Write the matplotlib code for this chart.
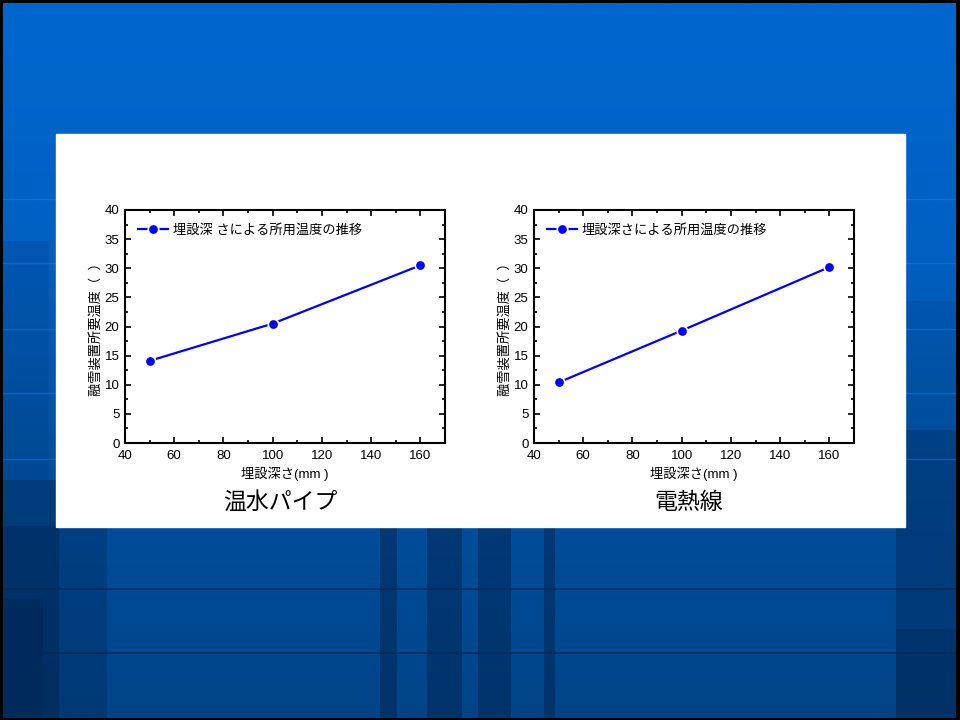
import numpy as np
import matplotlib.pyplot as plt
from matplotlib.patches import Rectangle
from matplotlib.colors import LinearSegmentedColormap

plt.rcParams['font.family'] = ['Liberation Sans', 'Noto Sans CJK JP', 'DejaVu Sans']

# 埋設深さ (mm) と融雪装置所要温度
depth = [50, 100, 160]
temp_hot_water = [14.1, 20.5, 30.5]
temp_heater = [10.4, 19.3, 30.2]

legend_hot_water = '埋設深 さによる所用温度の推移'
legend_heater = '埋設深さによる所用温度の推移'
ylabel = '融雪装置所要温度（  ）'
xlabel = '埋設深さ(mm )'
titles = ['温水パイプ', '電熱線']

W, H = 960, 720
fig = plt.figure(figsize=(9.6, 7.2), dpi=100)
fig.patch.set_facecolor('black')

# slide background
bg = fig.add_axes([3 / W, 2 / H, 953 / W, 715 / H])
bg.set_xlim(0, W)
bg.set_ylim(H, 0)
bg.axis('off')
grad = LinearSegmentedColormap.from_list('g', ['#0067cf', '#0060c2', '#004f9e', '#004488'])
bg.imshow(np.linspace(0, 1, 256)[:, None], aspect='auto', cmap=grad,
          extent=[0, W, H, 0], zorder=0)


def dark(x0, y0, x1, y1, a):
    bg.add_patch(Rectangle((x0, y0), x1 - x0, y1 - y0, color='#001a40', alpha=a,
                           lw=0, zorder=1))


dark(0, 240, 46, 480, 0.12)
dark(0, 480, 56, 720, 0.35)
dark(900, 300, 960, 430, 0.08)
dark(900, 430, 960, 720, 0.3)
dark(900, 630, 960, 720, 0.2)
dark(0, 527, 105, 720, 0.25)
dark(0, 600, 40, 720, 0.2)
for x0, x1 in [(380, 397), (427, 462), (478, 512), (545, 556)]:
    dark(x0, 527, x1, 720, 0.4)
for y in [197, 262, 328, 393, 459]:
    bg.plot([0, W], [y, y], color='#1a7ae0', lw=1, alpha=0.5, zorder=2)
for y in [590, 655]:
    bg.plot([0, W], [y, y], color='#002a5c', lw=1.2, zorder=2)

# white panel
fig.patches.append(Rectangle((56 / W, 1 - 527 / H), 849 / W, 393 / H,
                             transform=fig.transFigure, color='white', zorder=3))

series = [(temp_hot_water, legend_hot_water, 125), (temp_heater, legend_heater, 534)]
for i, (vals, lab, x0) in enumerate(series):
    ax = fig.add_axes([x0 / W, 1 - 443 / H, 320 / W, 233 / H], zorder=5)
    ax.plot(depth, vals, color='#0000ff', lw=1.6, marker='o', ms=7.5,
            mfc='#0000ff', mec='white', mew=1.2, label=lab)
    ax.set_xlim(40, 170)
    ax.set_ylim(0, 40)
    ax.set_xticks(range(40, 161, 20))
    ax.set_xticks(range(40, 171, 10), minor=True)
    ax.set_yticks(range(0, 41, 5))
    ax.set_yticks(np.arange(0, 40.1, 2.5), minor=True)
    ax.tick_params(which='both', direction='in', top=True, right=True,
                   labelsize=9.5, width=1.2)
    ax.tick_params(axis='x', pad=5)
    ax.tick_params(axis='y', pad=4)
    ax.tick_params(which='major', length=4)
    ax.tick_params(which='minor', length=2.5)
    for s in ax.spines.values():
        s.set_linewidth(1.5)
    ax.set_xlabel(xlabel, fontsize=9.5, labelpad=3)
    ax.set_ylabel(ylabel, fontsize=9.5, labelpad=1)
    ax.legend(loc='upper left', frameon=False, fontsize=9.5, handlelength=2.2,
              handletextpad=0.4, borderaxespad=0.5, bbox_to_anchor=(0.005, 0.99))
    fig.text((x0 + 155) / W, 1 - 502 / H, titles[i], fontsize=16.5,
             ha='center', va='center', zorder=6)

fig.savefig('out.png', dpi=100, facecolor=fig.get_facecolor())
